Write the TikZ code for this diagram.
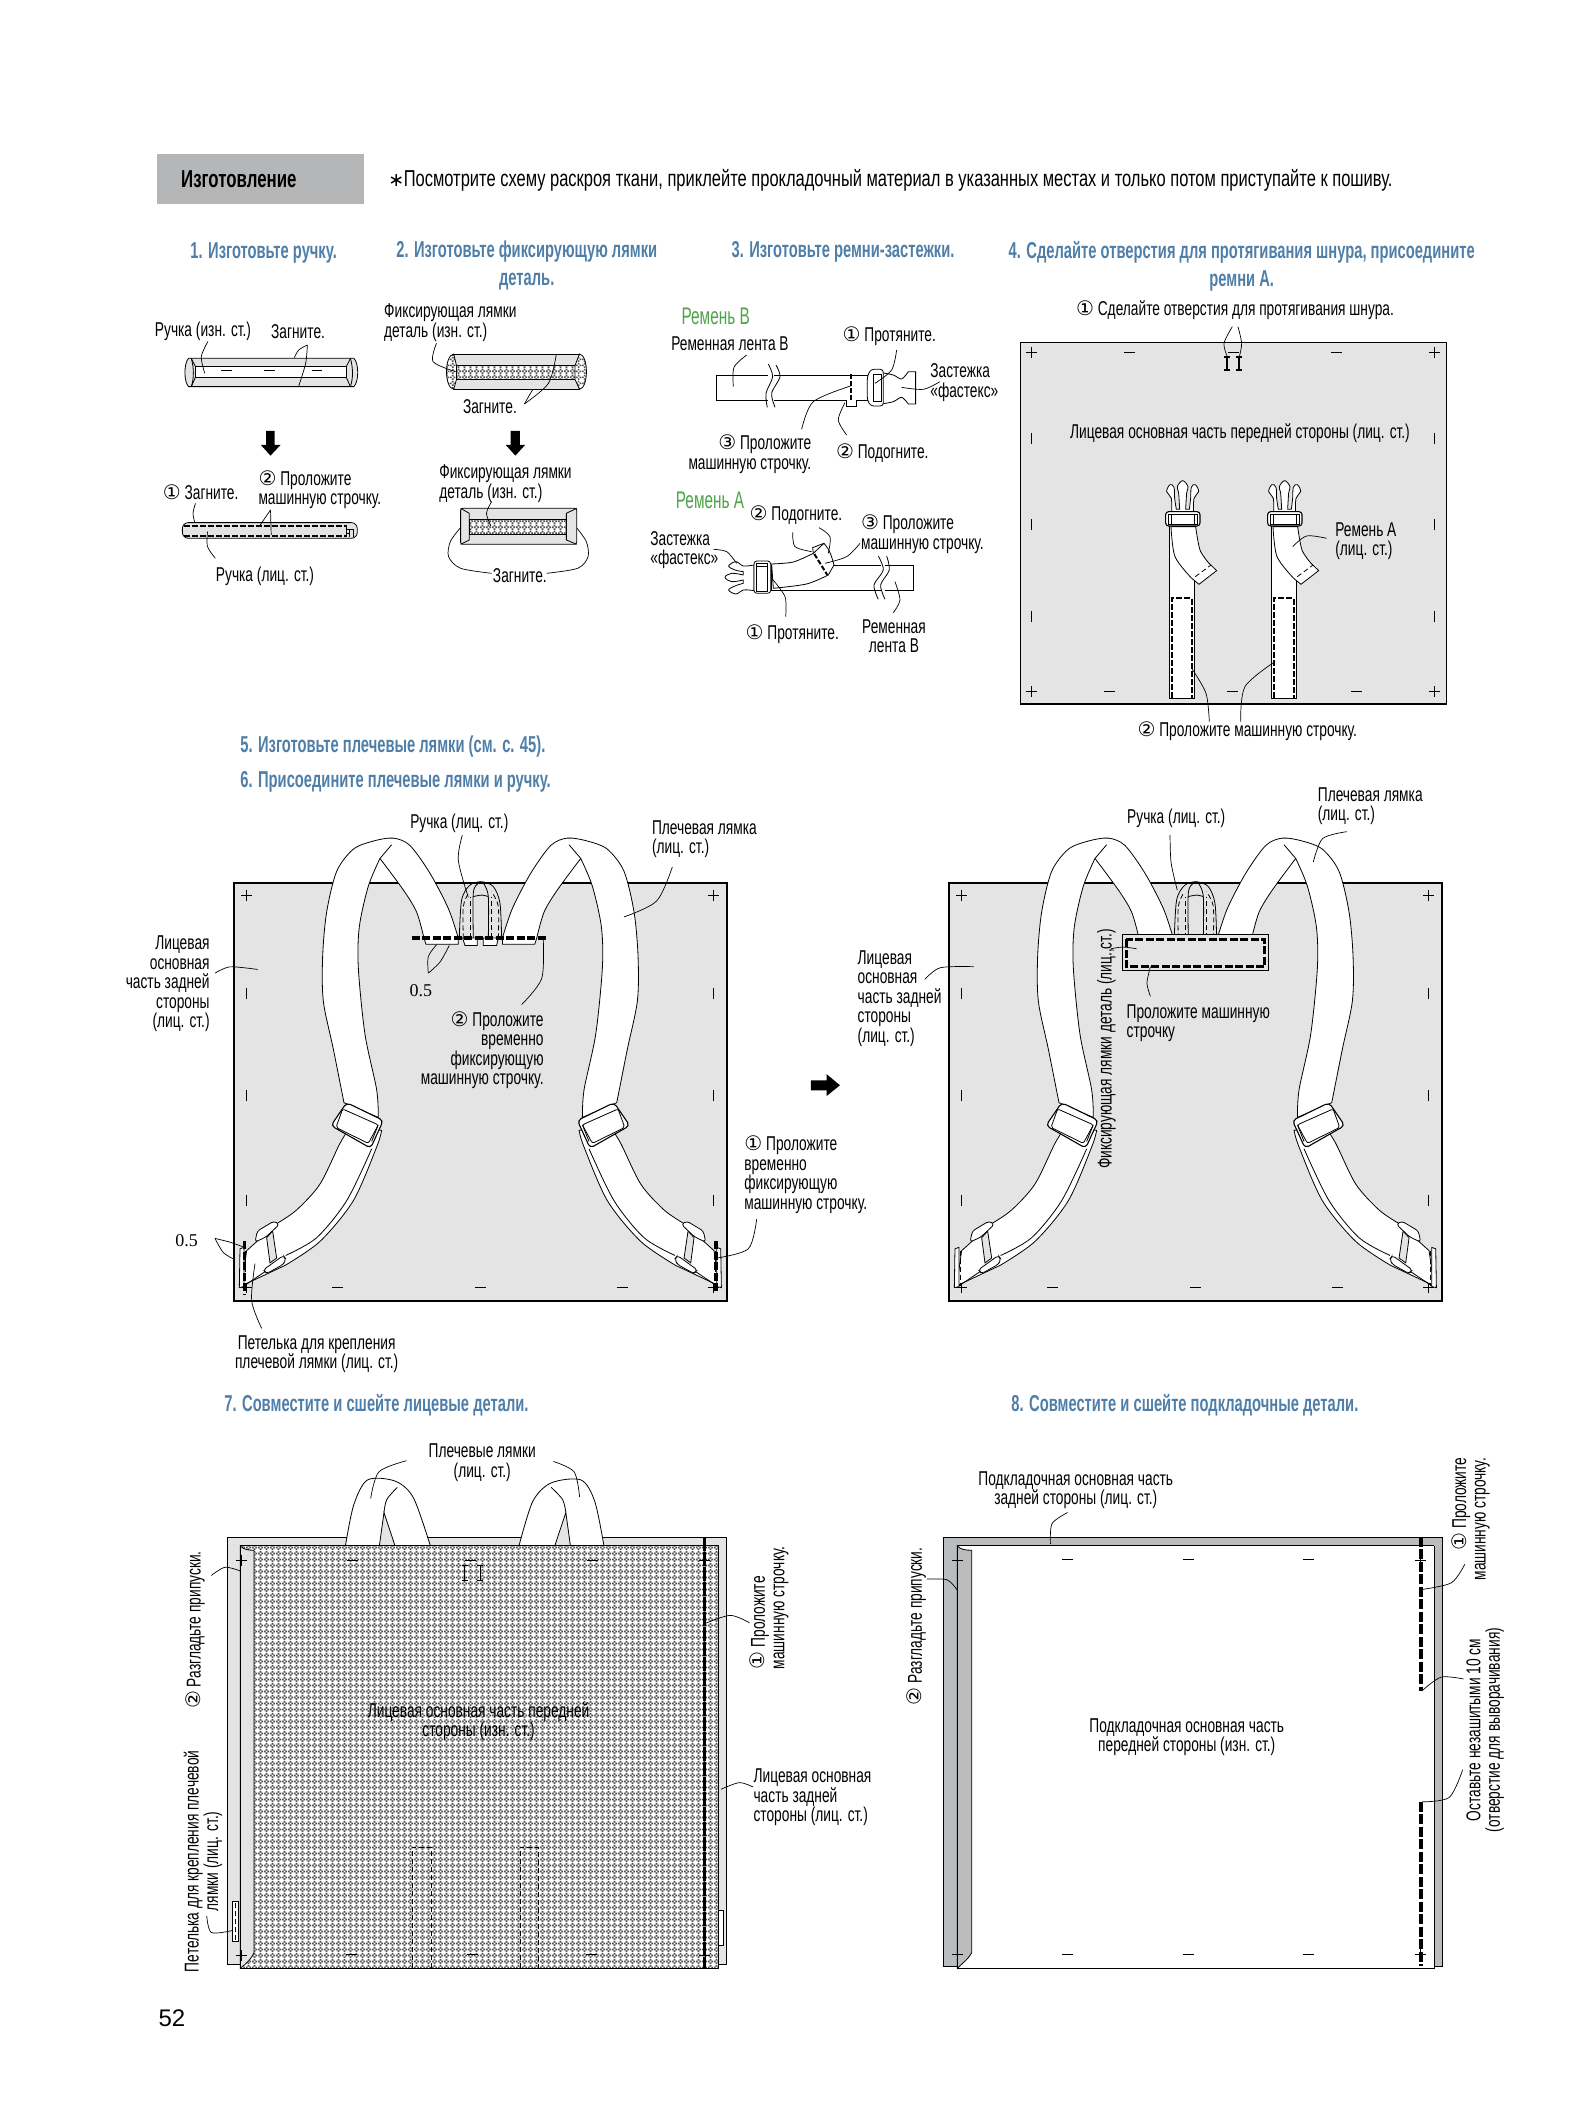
\documentclass[tikz,border=0pt]{standalone}
\usepackage{fontspec}
\usepackage{tikz}
\usetikzlibrary{patterns}
\setmainfont{Liberation Sans}[FakeStretch=0.687]
\newfontfamily\symfont{DejaVu Sans}
\newfontfamily\numfont{Liberation Serif}
\newfontfamily\pagefont{Liberation Sans}
\newfontfamily\headfont{Liberation Sans}[FakeStretch=0.64]
\newfontfamily\notefont{Liberation Sans}[FakeStretch=0.717]
\definecolor{panelgrey}{HTML}{E4E4E5}
\definecolor{boxgrey}{HTML}{B5B6B8}
\definecolor{seamgrey}{HTML}{BBBCBE}
\definecolor{headblue}{HTML}{4F7FA9}
\definecolor{beltgreen}{HTML}{4FA34A}
\pgfdeclarepatternformonly{stipple}{\pgfqpoint{0pt}{0pt}}{\pgfqpoint{6pt}{6pt}}{\pgfqpoint{6pt}{6pt}}{%
  \foreach \dx/\dy in {2/0,0/2,4/2,2/4} {\pgfpathrectangle{\pgfqpoint{\dx pt}{\dy pt}}{\pgfqpoint{1.9pt}{1.9pt}}}\pgfusepath{fill}}
\newcommand{\nmk}[1]{{\symfont #1}}
\newcommand{\hmk}[2]{\draw[mk] ([xshift=-5.5pt]#1,#2) -- ([xshift=5.5pt]#1,#2);}
\newcommand{\vmk}[2]{\draw[mk] ([yshift=-5.5pt]#1,#2) -- ([yshift=5.5pt]#1,#2);}
\newcommand{\cmk}[2]{\hmk{#1}{#2}\vmk{#1}{#2}}
\tikzset{
  lab/.style={font=\fontsize{20}{19.5}\selectfont, align=center, inner sep=0pt, yshift=-1pt},
  head/.style={font=\headfont\bfseries\fontsize{23}{28}\selectfont, text=headblue, align=center, inner sep=0pt, yshift=-2.5pt},
  belt/.style={font=\headfont\fontsize{24}{25}\selectfont, text=beltgreen, inner sep=0pt},
  zero/.style={font=\numfont\fontsize{18}{20}\selectfont, inner sep=0pt},
  lead/.style={line width=.7pt},
  mk/.style={line width=.8pt},
  outl/.style={line width=1.1pt},
  stitch/.style={line width=3.2pt, dash pattern=on 8pt off 2.5pt},
  thindash/.style={line width=.8pt, dash pattern=on 5pt off 3pt},
  stip/.style={preaction={fill=white}, pattern=stipple, pattern color=black!70},
  cropa/.style={shift={(130,130)}, x=.3444pt, y=-.3333pt},
  cropb/.style={shift={(630,280)}, x=.3333pt, y=-.3333pt},
  cropc/.style={shift={(1000,230)}, x=.3333pt, y=-.3333pt},
  cropd/.style={shift={(120,790)}, x=.3333pt, y=-.37pt},
  cropdm/.style={shift={(840.7,790)}, x=-.3333pt, y=-.37pt},
  crope/.style={shift={(540,790)}, x=.3333pt, y=-.37pt},
  cropf/.style={shift={(930,780)}, x=.3444pt, y=-.3444pt},
  cropg/.style={shift={(170,1420)}, x=.4592pt, y=-.37pt},
  croph/.style={shift={(890,1420)}, x=.4082pt, y=-.37pt},
}
\newcommand{\strapshape}{%
  \draw[fill=white] plot[smooth] coordinates {(695,905)(660,955)(600,1065)(530,1135)(470,1172)} -- (380,1245) -- (365,1340) -- plot[smooth] coordinates {(495,1285)(600,1220)(700,1110)(770,965)(785,920)} -- cycle;
  \draw plot[smooth] coordinates {(755,970)(680,1110)(590,1210)(497,1258)};
  \draw (372,1340) -- (438,1300);
  \draw[fill=panelgrey] (440,1210) -- (458,1192) -- (470,1265) -- (450,1278) -- cycle;
  \draw[fill=white, rounded corners=3pt] (405,1222) -- (412,1192) -- (462,1165) -- (478,1174) -- (438,1208) -- cycle;
  \draw[fill=white, rounded corners=3pt] (430,1297) -- (490,1258) -- (498,1268) -- (490,1282) -- (440,1307) -- cycle;
  \draw[fill=white] (360,1240) -- (358,1345) -- (372,1342) -- (372,1236) -- cycle;
  \draw[thindash] (375,1245) -- (375,1340);
  \draw[fill=white] plot[smooth] coordinates {(672,845)(640,700)(610,570)(608,450)(620,330)(650,220)(700,160)(760,138)(820,130)(870,150)(930,225)(985,320)(1015,400)} -- (1015,417) -- (918,417) -- (912,400) -- plot[smooth] coordinates {(912,400)(890,330)(850,270)(780,185)} -- plot[smooth] coordinates {(780,185)(745,260)(718,370)(715,480)(735,660)(770,810)(775,885)} -- cycle;
  \draw (780,185) -- (815,148);
  \draw[fill=white, rounded corners=4pt, outl] (680,845) -- (790,893) -- (752,968) -- (633,907) -- cycle;
  \draw[fill=white, rounded corners=2pt] (668,862) -- (775,905) -- (745,955) -- (648,912) -- cycle;
  \draw (775,905) -- (755,950);
}
\newcommand{\backpanel}{%
  \draw[fill=panelgrey, outl] (234,883) rectangle (727,1301);
  \foreach \px in {246.7,713} \foreach \py in {895,1287.6} {\cmk{\px}{\py}}
  \foreach \px in {246.7,713} \foreach \py in {993.5,1095,1200.7} {\vmk{\px}{\py}}
  \foreach \px in {337.7,480,622} {\hmk{\px}{1287.6}}
  \begin{scope}[cropd]
    \strapshape
    \draw plot[smooth] coordinates {(1018,401)(1025,297)(1050,257)(1085,248)(1120,261)(1140,306)(1145,401)};
    \draw[thindash] plot[smooth] coordinates {(1030,401)(1030,315)(1045,280)};
    \draw[thindash] plot[smooth] coordinates {(1135,401)(1135,315)(1115,275)};
    \draw[thindash] (1050,401) -- (1050,290);
    \draw[thindash] (1115,401) -- (1115,290);
    \draw plot[smooth] coordinates {(1060,401)(1060,279)(1075,252)(1090,252)(1105,288)(1105,401)};
    \draw plot[smooth] coordinates {(1060,288)(1085,284)(1105,288)};
    \draw[fill=white] (1028,400) -- (1035,420) -- (1072,420) -- (1072,400) -- cycle;
    \draw[fill=white] (1090,400) -- (1090,420) -- (1130,420) -- (1135,400) -- cycle;
  \end{scope}
  \begin{scope}[cropdm]
    \strapshape
  \end{scope}
}
\newcommand{\strapa}{%
  \draw[fill=white] (508,885) -- (508,1405) -- (583,1405) -- (583,885) -- cycle;
  \draw[line width=2pt, dash pattern=on 6pt off 2pt] (517,1405) -- (517,1105) -- (575,1105) -- (575,1405);
  \fill[panelgrey] (584,885) rectangle (600,1030);
  \draw[fill=white] plot[smooth] coordinates {(513,890)(525,980)(575,1045)} -- (597,1063) -- (650,1022) -- plot[smooth] coordinates {(627,1000)(600,960)(587,890)} -- cycle;
  \draw[thindash] (586,1040) -- (632,1006);
  \draw[fill=white] plot[smooth, tension=.6] coordinates {(515,848)(514,805)(500,785)(510,764)(522,772)(524,805)(529,838)} -- plot[smooth, tension=.6] coordinates {(539,838)(536,790)(532,770)(548,752)(564,770)(560,790)(557,838)} -- plot[smooth, tension=.6] coordinates {(568,838)(572,805)(574,772)(586,764)(596,785)(582,805)(581,848)} -- cycle;
  \draw[fill=white, rounded corners=3pt, outl] (497,845) rectangle (600,888);
  \draw[fill=white] (505,852) rectangle (592,882);
  \draw (515,852) -- (515,882) (582,852) -- (582,882);
}
\begin{document}
\begin{tikzpicture}[x=1pt, y=-1pt, line width=.8pt]
\fill[white] (0,0) rectangle (1583,2126);
\useasboundingbox (0,0) rectangle (1583,2126);
% top strip
\begin{scope}[cropa]
  \fill[boxgrey] (78,72) rectangle (679,222);
  \node[font=\bfseries\fontsize{24.5}{26}\selectfont, inner sep=0pt] (maketitle) at (316,148) {Изготовление};
  \node[font=\notefont\fontsize{23}{25}\selectfont, inner sep=0pt, anchor=west] (note) at (749,150) {{\symfont\fontsize{19}{20}\selectfont ∗}\hspace{-.5pt}Посмотрите схему раскроя ткани, приклейте прокладочный материал в указанных местах и только потом приступайте к пошиву.};
  \node[head] (headone) at (388,362) {1. Изготовьте ручку.};
  \node[head, anchor=north] (headtwo) at (1152,325) {2. Изготовьте фиксирующую лямки\\деталь.};
\end{scope}
\node[head] (headthree) at (843,249) {3. Изготовьте ремни-застежки.};
\node[head, anchor=north] (headfour) at (1241.7,238) {4. Сделайте отверстия для протягивания шнура, присоедините\\ремни А.};
\node[head, anchor=west] (headfive) at (240,744) {5. Изготовьте плечевые лямки (см. с. 45).};
\node[head, anchor=west] (headsix) at (240,779) {6. Присоедините плечевые лямки и ручку.};
\node[head, anchor=west] (headseven) at (224,1403) {7. Совместите и сшейте лицевые детали.};
\node[head, anchor=west] (headeight) at (1011,1403) {8. Совместите и сшейте подкладочные детали.};
\node[font=\pagefont\fontsize{24}{26}\selectfont, inner sep=0pt] (pagenum) at (172,2018) {52};
% step 1 and 2
\begin{scope}[cropa]
  \draw[fill=panelgrey] (178,685) -- (650,685) .. controls (665,700) and (665,755) .. (650,770) -- (170,770) .. controls (156,755) and (156,700) .. (170,685) -- cycle;
  \draw[fill=white] (190,710) rectangle (628,742);
  \draw (178,685) -- (190,710) (178,770) -- (190,742) (640,685) -- (628,710) (640,770) -- (628,742);
  \draw (178,685) .. controls (186,715) and (186,745) .. (178,770);
  \draw (640,685) .. controls (648,715) and (648,745) .. (640,770);
  \foreach \px in {190,628} \draw[mk] (\px,715) -- (\px,738);
  \foreach \px in {280,405,542} \draw[mk] (\px-15,722) -- (\px+15,722);
  \node[lab] (handleback) at (212,602) {Ручка (изн. ст.)};
  \node[lab] (foldone) at (488,602) {Загните.};
  \draw[lead] plot[smooth] coordinates {(226,635)(207,680)(217,730)};
  \draw[lead] plot[smooth] coordinates {(477,683)(490,660)(515,645)};
  \draw[lead] plot[smooth] coordinates {(515,645)(510,700)(490,768)};
  \fill (395,903) -- (420,903) -- (420,945) -- (437,945) -- (408,977) -- (380,945) -- (395,945) -- cycle;
  \fill (1105,903) -- (1132,903) -- (1132,945) -- (1147,945) -- (1119,977) -- (1091,945) -- (1105,945) -- cycle;
  \draw[fill=panelgrey, rounded corners=6pt] (152,1178) rectangle (660,1225);
  \draw[line width=1.8pt, dash pattern=on 6pt off 2pt] (158,1188) -- (628,1188);
  \draw[line width=1.8pt, dash pattern=on 6pt off 2pt] (158,1217) -- (628,1217);
  \draw (628,1184) -- (628,1222) (628,1198) -- (648,1198) -- (648,1222) (638,1198) -- (638,1222) (628,1210) -- (638,1210);
  \node[lab] (foldtwo) at (205,1083) {\nmk{①} Загните.};
  \node[lab, anchor=west, align=left] (sewone) at (372,1076) {\nmk{②} Проложите\\машинную строчку.};
  \node[lab] (handlefront) at (392,1335) {Ручка (лиц. ст.)};
  \draw[lead] plot[smooth] coordinates {(190,1120)(183,1150)(188,1178)};
  \draw[lead] (408,1140) -- (378,1185) (408,1140) -- (410,1215);
  \draw[lead] plot[smooth] coordinates {(225,1205)(225,1250)(248,1285)};
  % holding piece
  \draw[fill=panelgrey] (940,672) -- (1305,672) -- (1305,778) -- (940,778) -- cycle;
  \path[stip] (940,672) .. controls (912,676) and (912,774) .. (940,778) -- (948,748) -- (948,707) -- cycle;
  \path[stip] (1305,672) .. controls (1332,676) and (1332,774) .. (1305,778) -- (1292,748) -- (1292,707) -- cycle;
  \path[stip] (948,707) rectangle (1292,748);
  \draw (940,672) .. controls (912,676) and (912,774) .. (940,778) -- (948,748) -- (948,707) -- cycle;
  \draw (1305,672) .. controls (1332,676) and (1332,774) .. (1305,778) -- (1292,748) -- (1292,707) -- cycle;
  \draw (948,707) -- (1292,707) (948,748) -- (1292,748);
  \node[lab, anchor=west, align=left] (holdback) at (737,575) {Фиксирующая лямки\\деталь (изн. ст.)};
  \node[lab] (foldthree) at (1045,828) {Загните.};
  \draw[lead] plot[smooth] coordinates {(890,640)(880,695)(945,725)};
  \draw[lead] plot[smooth] coordinates {(1238,672)(1215,760)(1145,822)};
  \draw[lead] plot[smooth] coordinates {(1145,822)(1160,795)(1170,778)};
  \draw[fill=panelgrey, rounded corners=2pt] (960,1135) rectangle (1297,1243);
  \path[stip] (985,1168) rectangle (1267,1213);
  \draw (985,1168) rectangle (1267,1213);
  \draw (960,1135) -- (985,1150) -- (985,1230) -- (960,1243) (1297,1135) -- (1267,1150) -- (1267,1230) -- (1297,1243);
  \node[lab, anchor=west, align=left] (holdinner) at (897,1058) {Фиксирующая лямки\\деталь (изн. ст.)};
  \node[lab] (foldfour) at (1132,1333) {Загните.};
  \draw[lead] plot[smooth] coordinates {(1050,1115)(1035,1150)(1048,1188)};
  \draw[lead] plot[smooth] coordinates {(1050,1330)(960,1315)(925,1280)(930,1235)(958,1195)};
  \draw[lead] plot[smooth] coordinates {(1210,1330)(1300,1315)(1330,1280)(1325,1235)(1298,1195)};
\end{scope}
% step 3
\begin{scope}[cropb]
  \node[belt] (beltb) at (257,110) {Ремень В};
  \node[lab] (tapeb) at (300,188) {Ременная лента В};
  \draw[fill=white] (260,286) rectangle (730,360);
  \draw[fill=white] (650,360) -- (650,380) -- (680,380) -- (680,360);
  \fill[white] (415,270) rectangle (432,375);
  \draw plot[smooth] coordinates {(415,252)(428,290)(408,340)(412,382)};
  \draw plot[smooth] coordinates {(438,255)(450,290)(425,340)(435,382)};
  \draw[fill=white] plot[smooth] coordinates {(755,278)(790,285)(815,297)(835,275)} -- (857,275) -- (857,372) -- (835,372) -- plot[smooth] coordinates {(835,372)(815,352)(790,365)(755,372)} -- cycle;
  \draw[fill=white, rounded corners=3pt] (712,290) -- (722,268) -- (760,268) -- (760,378) -- (722,378) -- (712,360) -- cycle;
  \draw[fill=white] (730,283) rectangle (755,365);
  \draw[line width=2pt, dash pattern=on 5pt off 2pt] (662,283) -- (662,362);
  \node[lab] (pullb) at (778,165) {\nmk{①} Протяните.};
  \node[lab, anchor=west, align=left] (clipb) at (900,305) {Застежка\\«фастекс»};
  \node[lab, anchor=east, align=right] (sewb) at (545,520) {\nmk{③} Проложите\\машинную строчку.};
  \node[lab] (fitb) at (757,517) {\nmk{②} Подогните.};
  \draw[lead] plot[smooth] coordinates {(350,225)(312,262)(310,320)};
  \draw[lead] plot[smooth] coordinates {(800,210)(785,270)(735,310)};
  \draw[lead] plot[smooth] coordinates {(815,322)(880,328)(930,305)};
  \draw[lead] plot[smooth] coordinates {(515,448)(550,365)(662,318)};
  \draw[lead] plot[smooth] coordinates {(650,465)(625,420)(645,368)};
  \node[belt] (belta) at (240,662) {Ремень А};
  \node[lab] (fita) at (498,703) {\nmk{②} Подогните.};
  \node[lab, anchor=west, align=left] (sewa) at (692,760) {\nmk{③} Проложите\\машинную строчку.};
  \node[lab, anchor=west, align=left] (clipa) at (60,808) {Застежка\\«фастекс»};
  \node[lab] (pulla) at (487,1060) {\nmk{①} Протяните.};
  \node[lab] (tapea) at (792,1065) {Ременная\\лента В};
  \draw[fill=white] (425,855) -- (850,855) -- (850,930) -- (425,930) -- cycle;
  \fill[white] (752,845) rectangle (765,940);
  \draw plot[smooth] coordinates {(745,828)(760,870)(732,915)(745,958)};
  \draw plot[smooth] coordinates {(770,828)(778,870)(752,915)(765,958)};
  \draw[fill=white] plot[smooth] coordinates {(425,852)(490,846)(550,820)} -- (548,803) -- (582,790) .. controls (600,810) and (605,830) .. (612,855) -- plot[smooth] coordinates {(595,885)(530,912)(430,925)} -- cycle;
  \draw (550,820) -- (582,790);
  \draw[line width=2pt, dash pattern=on 5pt off 2pt] (553,822) -- (592,885);
  \draw[fill=white] plot[smooth, tension=.6] coordinates {(372,855)(340,858)(318,845)(296,858)(315,870)(340,875)} -- plot[smooth, tension=.6] coordinates {(340,885)(305,880)(285,892)(305,905)(340,900)} -- plot[smooth, tension=.6] coordinates {(340,910)(315,918)(296,930)(318,942)(340,930)(372,932)} -- cycle;
  \draw[fill=white, rounded corners=3pt] (372,843) rectangle (422,940);
  \draw[fill=white] (380,850) rectangle (412,935);
  \draw (380,858) -- (412,858);
  \draw[lead] plot[smooth] coordinates {(488,757)(495,800)(545,815)};
  \draw[lead] plot[smooth] coordinates {(567,743)(600,770)(595,820)};
  \draw[lead] plot[smooth] coordinates {(690,790)(650,830)(585,850)};
  \draw[lead] plot[smooth] coordinates {(250,808)(290,815)(320,850)};
  \draw[lead] plot[smooth] coordinates {(467,1010)(465,950)(425,895)};
  \draw[lead] plot[smooth] coordinates {(790,998)(810,960)(795,905)};
\end{scope}
% step 4
\begin{scope}[cropc]
  \draw[fill=panelgrey, outl] (62,337) rectangle (1339,1422);
  \foreach \px in {94,1303} \foreach \py in {368,1385} {\cmk{\px}{\py}}
  \foreach \px in {94,1303} \foreach \py in {625,885,1160} {\vmk{\px}{\py}}
  \foreach \px/\py in {388/367,700/367,1010/367,328/1385,698/1385,1070/1385} {\hmk{\px}{\py}}
  \foreach \px in {682,718} \draw[line width=1.8pt] (\px,382) -- (\px,420) (\px-9,382) -- (\px+9,382) (\px-9,420) -- (\px+9,420);
  \strapa
  \begin{scope}[xshift=102pt]
    \strapa
  \end{scope}
  \node[lab] (holes) at (705,238) {\nmk{①} Сделайте отверстия для протягивания шнура.};
  \node[lab] (frontface) at (720,607) {Лицевая основная часть передней стороны (лиц. ст.)};
  \node[lab, anchor=west, align=left] (beltface) at (1005,930) {Ремень А\\(лиц. ст.)};
  \node[lab] (sewfour) at (742,1502) {\nmk{②} Проложите машинную строчку.};
  \draw[lead] plot[smooth] coordinates {(697,290)(672,340)(682,380)};
  \draw[lead] plot[smooth] coordinates {(714,290)(725,340)(718,380)};
  \draw[lead] plot[smooth] coordinates {(980,925)(920,918)(878,950)};
  \draw[lead] plot[smooth] coordinates {(628,1475)(618,1390)(575,1315)};
  \draw[lead] plot[smooth] coordinates {(722,1475)(735,1370)(825,1295)};
\end{scope}
% step 6, left
\backpanel
\begin{scope}[cropd]
  \draw[stitch] (875,400) -- (1278,400);
  \draw[stitch] (373,1220) -- (373,1365);
  \node[lab] (handlesix) at (1018,88) {Ручка (лиц. ст.)};
  \node[lab, anchor=east, align=right] (backsix) at (270,522) {Лицевая\\основная\\часть задней\\стороны\\(лиц. ст.)};
  \node[zero] (gapone) at (903,543) {0.5};
  \node[lab, anchor=east, align=right] (tacktwo) at (1272,700) {\nmk{②} Проложите\\временно\\фиксирующую\\машинную строчку.};
  \node[zero] (gaptwo) at (200,1217) {0.5};
  \node[lab] (loopsix) at (590,1522) {Петелька для крепления\\плечевой лямки (лиц. ст.)};
  \draw[lead] plot[smooth] coordinates {(1027,122)(1015,190)(1045,290)};
  \draw[lead] plot[smooth] coordinates {(285,495)(330,478)(413,485)};
  \draw[lead] plot[smooth] coordinates {(925,495)(925,450)(950,418)};
  \draw[lead] plot[smooth] coordinates {(925,495)(960,465)(988,420)};
  \draw[lead] plot[smooth] coordinates {(1205,580)(1265,510)(1270,405)};
  \draw[lead] plot[smooth] coordinates {(285,1212)(330,1222)(370,1235)};
  \draw[lead] plot[smooth] coordinates {(285,1212)(310,1250)(342,1268)};
  \draw[lead] plot[smooth] coordinates {(425,1455)(395,1380)(405,1280)};
\end{scope}
\begin{scope}[crope]
  \draw[stitch] (528,1220) -- (528,1360);
  \node[lab, anchor=west, align=left] (strapsix) at (335,130) {Плечевая лямка\\(лиц. ст.)};
  \node[lab, anchor=west, align=left] (tackone) at (612,1037) {\nmk{①} Проложите\\временно\\фиксирующую\\машинную строчку.};
  \node[lab, anchor=west, align=left] (backsixb) at (952,560) {Лицевая\\основная\\часть задней\\стороны\\(лиц. ст.)};
  \draw[lead] plot[smooth] coordinates {(397,208)(350,300)(252,343)};
  \draw[lead] plot[smooth] coordinates {(650,1160)(625,1240)(530,1265)};
  \fill (813,785) -- (860,785) -- (860,768) -- (900,798) -- (860,827) -- (860,812) -- (813,812) -- cycle;
\end{scope}
% step 6, right
\begin{scope}[xshift=715pt]
  \backpanel
\end{scope}
\begin{scope}[cropf]
  \draw[fill=panelgrey] (558,448) rectangle (983,552);
  \draw[stitch] (570,462) rectangle (972,542);
  \node[lab, rotate=90] (patchlab) at (512,778) {Фиксирующая лямки деталь (лиц.,ст.)};
  \node[lab, anchor=west, align=left] (patchsew) at (570,703) {Проложите машинную\\строчку};
  \node[lab] (handlesixb) at (715,108) {Ручка (лиц. ст.)};
  \node[lab, anchor=west, align=left] (strapsixb) at (1125,73) {Плечевая лямка\\(лиц. ст.)};
  \draw[lead] plot[smooth] coordinates {(-15,579)(30,545)(127,542)};
  \draw[lead] plot[smooth] coordinates {(697,160)(700,240)(718,320)};
  \draw[lead] plot[smooth] coordinates {(1210,150)(1140,170)(1113,238)};
  \draw[lead] plot[smooth] coordinates {(600,490)(560,485)(525,490)};
  \draw[lead] plot[smooth] coordinates {(640,628)(630,590)(640,542)};
\end{scope}
% step 7
\begin{scope}[cropg]
  \draw[fill=panelgrey, outl] (125,318) rectangle (1212,1472);
  \draw[fill=white] plot[smooth] coordinates {(382,340)(400,230)(430,162)(490,165)(530,210)(567,340)} -- cycle;
  \draw[fill=white] plot[smooth] coordinates {(945,340)(925,220)(895,162)(830,170)(790,220)(760,340)} -- cycle;
  \draw[fill=panelgrey] (456,340) -- (466,250) -- (490,340) -- cycle;
  \draw plot[smooth] coordinates {(466,250)(472,215)(495,182)};
  \draw[fill=panelgrey] (872,340) -- (862,250) -- (838,340) -- cycle;
  \draw plot[smooth] coordinates {(862,250)(855,215)(830,182)};
  \path[stip] (153,340) rectangle (1195,1482);
  \draw[outl] (153,340) rectangle (1195,1482);
  \draw[fill=panelgrey] (153,340) .. controls (160,350) and (170,352) .. (183,352) -- (183,1440) .. controls (175,1460) and (165,1470) .. (153,1482) -- cycle;
  \draw[fill=white] (135,1300) -- (150,1300) -- (150,1408) -- (135,1408) -- cycle;
  \draw[thindash] (143,1305) -- (143,1405);
  \draw[fill=white] (1195,1325) -- (1205,1325) -- (1205,1420) -- (1195,1420);
  \draw[outl] (153,340) -- (153,1482);
  \cmk{155}{380} \cmk{155}{1447} \cmk{1165}{380} \cmk{1165}{1447}
  \foreach \px/\py in {397/380,655/380,920/380,395/1443,658/1443,917/1443} {\hmk{\px}{\py}}
  \foreach \px in {642,675} \draw[mk] (\px,392) -- (\px,433) (\px-6,392) -- (\px+6,392) (\px-6,433) -- (\px+6,433);
  \draw[thindash] (528,1482) -- (528,1155) -- (570,1155) -- (570,1482);
  \draw[thindash] (762,1482) -- (762,1155) -- (803,1155) -- (803,1482);
  \draw[line width=2.6pt, dash pattern=on 14pt off 1pt] (1164,315) -- (1164,1482);
  \node[lab] (frontseven) at (672,812) {Лицевая основная часть передней\\стороны (изн. ст.)};
  \node[lab] (strapseven) at (680,113) {Плечевые лямки\\(лиц. ст.)};
  \node[lab, rotate=90] (pressseven) at (55,565) {\nmk{②} Разгладьте припуски.};
  \node[lab, rotate=90] (loopseven) at (72,1190) {Петелька для крепления плечевой\\лямки (лиц. ст.)};
  \node[lab, rotate=90, align=left] (sewseven) at (1305,505) {\nmk{①} Проложите\\машинную строчку.};
  \node[lab, anchor=west, align=left] (backseven) at (1270,1017) {Лицевая основная\\часть задней\\стороны (лиц. ст.)};
  \draw[lead] plot[smooth] coordinates {(515,110)(455,140)(437,212)};
  \draw[lead] plot[smooth] coordinates {(835,112)(880,140)(892,208)};
  \draw[lead] plot[smooth] coordinates {(90,420)(120,398)(153,408)};
  \draw[lead] plot[smooth] coordinates {(80,1340)(90,1385)(135,1380)};
  \draw[lead] plot[smooth] coordinates {(1262,548)(1220,528)(1165,550)};
  \draw[lead] plot[smooth] coordinates {(1270,992)(1240,980)(1200,998)};
\end{scope}
% step 8
\begin{scope}[croph]
  \draw[fill=seamgrey, outl] (131,318) rectangle (1354,1478);
  \fill[white] (165,340) rectangle (1333,1482);
  \draw[outl] (1333,340) -- (165,340) (165,1482) -- (1333,1482) -- (1333,340);
  \draw[fill=seamgrey] (165,340) .. controls (172,350) and (185,352) .. (200,352) -- (200,1440) .. controls (190,1460) and (175,1470) .. (165,1482) -- cycle;
  \draw[outl] (165,340) -- (165,1482);
  \cmk{165}{380} \cmk{1300}{380} \cmk{165}{1445} \cmk{1300}{1445}
  \foreach \px in {436,731,1025} {\hmk{\px}{378} \hmk{\px}{1445}}
  \draw[stitch, line width=3.8pt, dash pattern=on 10pt off 2.5pt] (1301,315) -- (1301,732);
  \draw[stitch, line width=3.8pt, dash pattern=on 10pt off 2.5pt] (1301,1032) -- (1301,1475);
  \node[lab] (liningback) at (455,187) {Подкладочная основная часть\\задней стороны (лиц. ст.)};
  \node[lab, rotate=90] (presseight) at (65,555) {\nmk{②} Разгладьте припуски.};
  \node[lab] (liningfront) at (727,855) {Подкладочная основная часть\\передней стороны (изн. ст.)};
  \node[lab, rotate=90, align=right] (seweight) at (1422,265) {\nmk{①} Проложите\\машинную строчку.};
  \node[lab, rotate=90] (gapeight) at (1458,835) {Оставьте незашитыми 10 см\\(отверстие для выворачивания)};
  \draw[lead] plot[smooth] coordinates {(435,250)(397,280)(393,335)};
  \draw[lead] plot[smooth] coordinates {(90,430)(140,432)(165,460)};
  \draw[lead] plot[smooth] coordinates {(1408,390)(1375,440)(1303,458)};
  \draw[lead] plot[smooth] coordinates {(1405,700)(1350,695)(1303,732)};
  \draw[lead] plot[smooth] coordinates {(1403,945)(1370,1020)(1303,1032)};
\end{scope}
\end{tikzpicture}
\end{document}
